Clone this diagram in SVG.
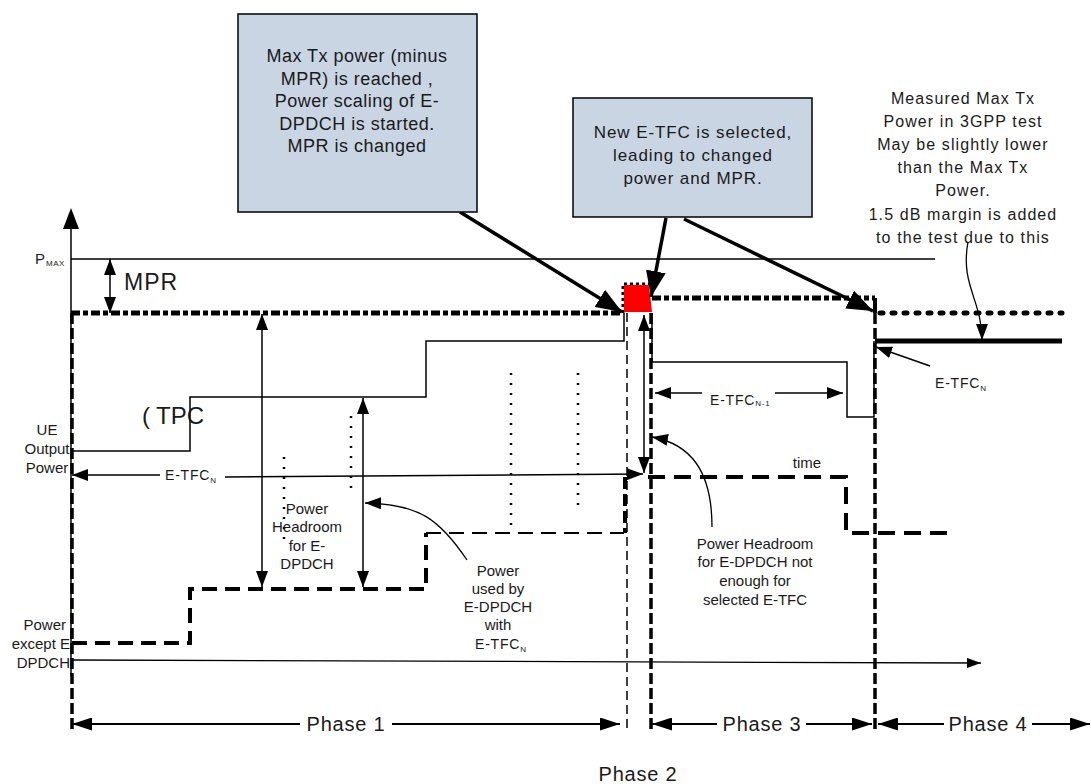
<svg xmlns="http://www.w3.org/2000/svg" width="1091" height="784" viewBox="0 0 1091 784">
<style>
.t{font-family:"Liberation Sans",Arial,sans-serif;fill:#1a1a1a;text-anchor:middle}
.ln{fill:none;stroke:#000}
.box{fill:#C9D5E3;stroke:#000;stroke-width:1.5}
</style>
<defs>
<marker id="big" viewBox="0 0 26 20" refX="26" refY="10" markerWidth="26" markerHeight="20" markerUnits="userSpaceOnUse" orient="auto"><path d="M0,0 L26,10 L0,20 z" fill="#000"/></marker>
<marker id="med" viewBox="0 0 16 12" refX="16" refY="6" markerWidth="16" markerHeight="12" markerUnits="userSpaceOnUse" orient="auto-start-reverse"><path d="M0,0 L16,6 L0,12 z" fill="#000"/></marker>
<marker id="sm" viewBox="0 0 14 10" refX="14" refY="5" markerWidth="14" markerHeight="10" markerUnits="userSpaceOnUse" orient="auto-start-reverse"><path d="M0,0 L14,5 L0,10 z" fill="#000"/></marker>
<marker id="ph" viewBox="0 0 20 13" refX="20" refY="6.5" markerWidth="20" markerHeight="13" markerUnits="userSpaceOnUse" orient="auto-start-reverse"><path d="M0,0 L20,6.5 L0,13 z" fill="#000"/></marker>
</defs>

<g id="axes">
<line class="ln" x1="71" y1="228" x2="71" y2="676" stroke-width="1.5"/>
<path d="M71,208 L79,229 L63,229 z" fill="#000"/>
<path class="ln" d="M72,660 L981,663" stroke="#333" stroke-width="1.3" marker-end="url(#sm)"/>
<line class="ln" x1="71" y1="259" x2="935" y2="259" stroke-width="1.3"/>
</g>

<g id="levels">
<path class="ln" d="M71,313 L623,313" stroke-width="5" stroke-dasharray="9 3 5 3"/>
<path class="ln" d="M623,313 L623,284 L650,284" stroke-width="3" stroke-dasharray="3 3"/>
<path class="ln" d="M652,298 L875,298" stroke-width="5" stroke-dasharray="9 3 5 3"/>
<path class="ln" d="M875,298 L875,313" stroke-width="4"/>
<path class="ln" d="M880,313 L1062,313" stroke-width="5" stroke-dasharray="3 9" stroke-linecap="round"/>
<line class="ln" x1="875" y1="341" x2="1062" y2="341" stroke-width="5"/>
</g>

<g id="redbox"><path d="M624,285 L649,285 L652,312 L624,312 z" fill="#FF0000"/></g>

<g id="phase-lines">
<line class="ln" x1="72" y1="313" x2="72" y2="730" stroke-width="3.5" stroke-dasharray="11 4"/>
<line class="ln" x1="627" y1="313" x2="627" y2="730" stroke-width="1.5" stroke-dasharray="9 5"/>
<line class="ln" x1="651" y1="313" x2="651" y2="730" stroke-width="3.5" stroke-dasharray="11 4"/>
<line class="ln" x1="875" y1="313" x2="875" y2="730" stroke-width="3.5" stroke-dasharray="11 4"/>
</g>

<g id="ue-power">
<path class="ln" d="M72,451 L190,451 L190,397 L426,397 L426,341 L624,341 L624,313" stroke-width="1.5"/>
<path class="ln" d="M652,313 L652,362 L847,362 L847,417 L874,417 L874,341" stroke-width="1.5"/>
</g>

<g id="except-power">
<path class="ln" d="M72,643 L190,643 L190,589 L426,589 L426,533" stroke-width="4" stroke-dasharray="15 8"/>
<path class="ln" d="M426,533 L624,533" stroke-width="2" stroke-dasharray="15 8"/>
<path class="ln" d="M625,477 L625,533" stroke-width="4" stroke-dasharray="12 5"/>
<path class="ln" d="M648,477 L846,477 L846,533 L952,533" stroke-width="4" stroke-dasharray="17 9"/>
</g>

<g id="edpdch-dots" stroke="#000" stroke-width="2.5" stroke-dasharray="2 8" fill="none">
<line x1="284" y1="457" x2="284" y2="540"/>
<line x1="351" y1="416" x2="351" y2="496"/>
<line x1="511" y1="373" x2="511" y2="530"/>
<line x1="578" y1="373" x2="578" y2="506"/>
</g>

<g id="connectors">
<line class="ln" x1="110" y1="259" x2="110" y2="313" stroke-width="1.5" marker-start="url(#med)" marker-end="url(#med)"/>
<line class="ln" x1="262" y1="314" x2="262" y2="587" stroke-width="1.5" marker-start="url(#med)" marker-end="url(#med)"/>
<line class="ln" x1="363" y1="398" x2="363" y2="587" stroke-width="1.5" marker-start="url(#med)" marker-end="url(#med)"/>
<line class="ln" x1="644" y1="315" x2="644" y2="473" stroke-width="1.5" marker-start="url(#med)" marker-end="url(#med)"/>
<line class="ln" x1="160" y1="475" x2="72" y2="475" stroke-width="1.5" marker-end="url(#med)"/>
<line class="ln" x1="225" y1="477" x2="643" y2="474" stroke-width="1.5" marker-end="url(#med)"/>
<line class="ln" x1="702" y1="393" x2="655" y2="393" stroke-width="1.5" marker-end="url(#med)"/>
<line class="ln" x1="775" y1="393" x2="843" y2="393" stroke-width="1.5" marker-end="url(#med)"/>
<line class="ln" x1="930" y1="366" x2="876" y2="347" stroke-width="1.5" marker-end="url(#med)"/>
<path class="ln" d="M467,560 C440,520 420,504 365,503" stroke-width="1.3" marker-end="url(#med)"/>
<path class="ln" d="M712,527 C712,470 690,444 652,437" stroke-width="1.3" marker-end="url(#med)"/>
<path class="ln" d="M968,242 C960,285 982,300 982,340" stroke-width="1.3" marker-end="url(#med)"/>
<line class="ln" x1="460" y1="212" x2="622" y2="312" stroke-width="3.5" marker-end="url(#big)"/>
<line class="ln" x1="666" y1="218" x2="651" y2="297" stroke-width="3.5" marker-end="url(#big)"/>
<line class="ln" x1="684" y1="219" x2="873" y2="311" stroke-width="3.5" marker-end="url(#big)"/>
<line class="ln" x1="300" y1="724" x2="72" y2="724" stroke-width="2" marker-end="url(#ph)"/>
<line class="ln" x1="392" y1="724" x2="620" y2="724" stroke-width="2" marker-end="url(#ph)"/>
<line class="ln" x1="717" y1="724" x2="652" y2="724" stroke-width="2" marker-end="url(#ph)"/>
<line class="ln" x1="806" y1="724" x2="872" y2="724" stroke-width="2" marker-end="url(#ph)"/>
<line class="ln" x1="944" y1="724" x2="878" y2="724" stroke-width="2" marker-end="url(#ph)"/>
<line class="ln" x1="1032" y1="724" x2="1090" y2="724" stroke-width="2" marker-end="url(#ph)"/>
</g>

<g id="callout1">
<rect class="box" x="238" y="14" width="239" height="198"/>
<text class="t" font-size="18" letter-spacing="0.5"><tspan x="357" y="62">Max Tx power (minus</tspan><tspan x="357" y="84.5">MPR) is reached ,</tspan><tspan x="357" y="107">Power scaling of E-</tspan><tspan x="357" y="129.5">DPDCH is started.</tspan><tspan x="357" y="152">MPR is changed</tspan></text>
</g>

<g id="callout2">
<rect class="box" x="573" y="98" width="239" height="119"/>
<text class="t" font-size="17" letter-spacing="0.9"><tspan x="693" y="138">New E-TFC is selected,</tspan><tspan x="693" y="161">leading to changed</tspan><tspan x="693" y="184">power and MPR.</tspan></text>
</g>

<g id="measured-note">
<text class="t" font-size="16" letter-spacing="1.1"><tspan x="963" y="104">Measured Max Tx</tspan><tspan x="963" y="127">Power in 3GPP test</tspan><tspan x="963" y="150">May be slightly lower</tspan><tspan x="963" y="173">than the Max Tx</tspan><tspan x="963" y="196">Power.</tspan><tspan x="963" y="220">1.5 dB margin is added</tspan><tspan x="963" y="243">to the test due to this</tspan></text>
</g>

<g id="labels">
<text class="t" style="text-anchor:start" x="35" y="264" font-size="15">P</text>
<text class="t" style="text-anchor:start" x="46" y="266" font-size="8" letter-spacing="0.5">MAX</text>
<text class="t" style="text-anchor:start" x="124" y="290" font-size="23" letter-spacing="1">MPR</text>
<text class="t" style="text-anchor:start" x="142" y="424" font-size="24">(<tspan dx="6">TPC</tspan></text>
<text class="t" font-size="15"><tspan x="47" y="435">UE</tspan><tspan x="47" y="454">Output</tspan><tspan x="47" y="473">Power</tspan></text>
<text class="t" font-size="15" style="text-anchor:end"><tspan x="66" y="630">Power</tspan><tspan x="70" y="649">except E</tspan><tspan x="70" y="668">DPDCH</tspan></text>
<text class="t" style="text-anchor:start" x="165" y="480" font-size="14" letter-spacing="0.8">E-TFC<tspan font-size="8" dy="3">N</tspan></text>
<text class="t" font-size="15"><tspan x="307" y="514">Power</tspan><tspan x="307" y="532">Headroom</tspan><tspan x="307" y="551">for E-</tspan><tspan x="307" y="569">DPDCH</tspan></text>
<text class="t" font-size="15"><tspan x="498" y="576">Power</tspan><tspan x="498" y="594">used by</tspan><tspan x="498" y="612">E-DPDCH</tspan><tspan x="498" y="630">with</tspan></text>
<text class="t" style="text-anchor:start" x="475" y="649" font-size="14" letter-spacing="0.8">E-TFC<tspan font-size="8" dy="3">N</tspan></text>
<text class="t" style="text-anchor:start" x="710" y="405" font-size="14" letter-spacing="0.8">E-TFC<tspan font-size="8" dy="1">N-1</tspan></text>
<text class="t" style="text-anchor:start" x="935" y="388" font-size="14" letter-spacing="0.8">E-TFC<tspan font-size="8" dy="3">N</tspan></text>
<text class="t" x="807" y="468" font-size="15">time</text>
<text class="t" font-size="15"><tspan x="755" y="549">Power Headroom</tspan><tspan x="755" y="567">for E-DPDCH not</tspan><tspan x="755" y="586">enough for</tspan><tspan x="755" y="605">selected E-TFC</tspan></text>
<text class="t" x="346" y="731" font-size="20" letter-spacing="0.8">Phase 1</text>
<text class="t" x="762" y="731" font-size="20" letter-spacing="0.8">Phase 3</text>
<text class="t" x="988" y="731" font-size="20" letter-spacing="0.8">Phase 4</text>
<text class="t" x="638" y="781" font-size="20" letter-spacing="0.8">Phase 2</text>
</g>
</svg>
